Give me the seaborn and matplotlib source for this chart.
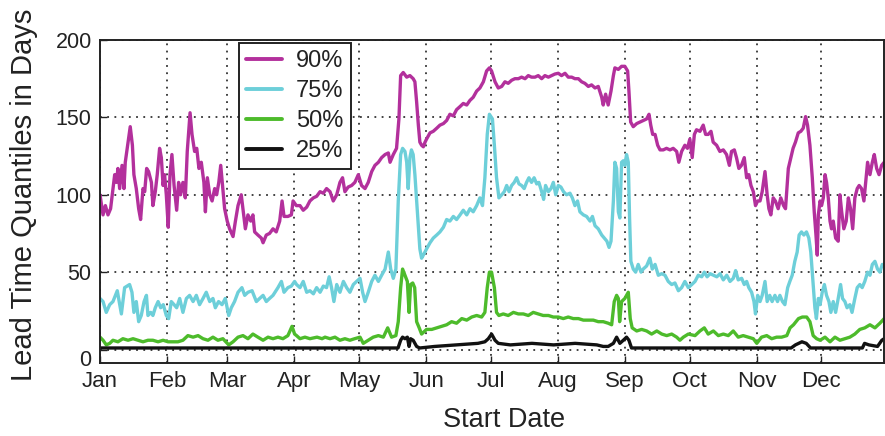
import matplotlib
matplotlib.use("Agg")
import matplotlib.pyplot as plt
from matplotlib.lines import Line2D
import seaborn as sns
import pandas as pd

# ---------------- data (day of year, value in days) ----------------
months = ["Jan", "Feb", "Mar", "Apr", "May", "Jun", "Jul", "Aug", "Sep", "Oct", "Nov", "Dec"]
month_start_day = [0, 31, 59, 90, 120, 151, 181, 212, 243, 273, 304, 334]
series_names = ["90%", "75%", "50%", "25%"]
series_colors = ["#B3309C", "#6DCFD9", "#4DBB2B", "#111111"]

p90_day = [0, 1.4, 2.5, 3.7, 4.9, 6, 6.8, 7.6, 8.3, 9.1, 10.2, 11.1, 11.7, 13, 14, 15, 15.7, 16.8, 17.9, 18.8,
           19.9, 20.7, 21.6, 22.5, 23.8, 24.5, 25.6, 26.5, 27.6, 28.4, 29.2, 29.9, 30.7, 31.6, 32.4, 33.3, 34.3,
           35.5, 36.4, 37.3, 38.4, 39.5, 40.4, 41.7, 42.6, 43.8, 44.8, 45.8, 46.9, 48.1, 48.8, 49.7, 50.8, 51.9,
           53.1, 54, 55, 55.9, 57, 57.7, 58.9, 60, 61.6, 62.7, 63.9, 65.4, 66.5, 67.3, 68.5, 69.8, 70.8, 71.6,
           73.1, 74.7, 75.5, 77, 78.5, 80.1, 81.6, 83.2, 84.3, 85.2, 87, 88.6, 89.4, 90.9,
           92.6, 94.1, 95.7, 97.2, 98.8, 100.3, 101.9, 103.4, 104.9, 106.5, 108, 109.6, 111.1, 112.3, 113.4,
           114.9, 116.5, 118, 119.6, 121.1, 122.7, 124.2, 125.8, 127.3, 128.9, 130.4, 132, 133.5, 134.3, 135.8,
           137.3, 138.4, 139.2, 140.4, 142, 143.5, 145, 145.8, 146.6, 147.4, 148.1, 148.9, 149.7, 150.5, 151.2,
           152.8, 154.3, 155.9, 157.4, 159, 160.5, 162, 163.6, 165.1, 166.7, 168.2, 169.8, 171.3, 172.8, 174.4,
           175.9, 177.5, 179, 180.3,
           181.3, 182.9, 184.4, 186, 187.5, 189, 190.6, 192.1, 193.7, 195.2, 196.8, 198.3, 199.8, 201.4, 202.9,
           204.5, 206, 207.6, 209.1, 210.6, 212.2, 213.7, 215.3, 216.8, 218.4, 219.9, 221.5, 223, 224.5, 226.1,
           227.6, 229.2, 230.7, 232.3, 233, 234.1, 235.3, 236.6, 237.7, 238.4, 240, 241.5, 243, 244.3, 244.9,
           245.7, 246.9, 248.5, 250, 251.5, 253.1, 254.2, 255, 255.9, 257, 258.2, 259.3, 260.8, 262.3, 263.9,
           265.4, 267, 268, 269.3, 270.8,
           272, 273.1, 274.2, 275.2, 276.2, 277.8, 279.3, 280.4, 281.6, 282.9, 283.9, 285.5, 287, 288.6, 290.1,
           291.4, 292.4, 293.7, 294.7, 295.8, 297, 298.3, 299.4, 300.4, 301.4, 302.5, 303.5, 304.5, 305.6, 306.6,
           307.9, 308.9, 309.7, 310.6, 311.7, 312.7, 314, 315.2, 316.5, 317.4, 318.7, 319.9, 320.9, 322, 323.3,
           324.5, 325.6, 326.7, 327.6, 328.7, 329.8, 330.7, 331.5, 332.1, 332.6, 333.4, 334.1, 334.9, 335.7,
           336.4, 337.2, 338, 338.7, 339.5, 340.6, 341.8, 342.6, 343.4, 344.4, 345.5, 346.5, 347.5, 348.5, 349.5,
           350.6, 351.5, 352.6, 353.7, 354.5, 355.4, 356.5, 357.6, 358.5, 359.6, 360.7, 361.9, 363.1]
p90_val = [100, 87, 93, 87, 91, 104, 113, 108, 117, 104, 119, 104, 121, 134, 144, 132, 113, 104, 91, 84,
           104, 102, 117, 115, 108, 93, 102, 113, 130, 124, 106, 113, 100, 79, 113, 126, 106,
           90, 108, 100, 108, 98, 128, 153, 139, 128, 130, 117, 121, 108, 89, 111, 100, 96,
           104, 100, 108, 119, 102, 91, 83, 78, 73, 83, 93, 100, 87, 78, 87, 83, 87, 76,
           74, 72, 69, 74, 75, 78, 76, 83, 96, 86, 86, 87, 96, 93,
           93, 90, 92, 96, 98, 99, 102, 101, 104, 102, 96, 100, 108, 111, 102,
           105, 106, 108, 113, 106, 104, 108, 115, 119, 121, 124, 126, 127, 121, 126,
           130, 149, 177, 179, 176, 177, 175, 173, 160, 145, 134, 132, 131, 134, 136,
           140, 141, 143, 145, 146, 148, 152, 151, 155, 157, 159, 158, 161, 163, 167,
           169, 173, 180, 182,
           180, 173, 169, 170, 173, 172, 174, 175, 175, 176, 175, 177, 176, 176, 177,
           175, 177, 176, 177, 178, 178.5, 177, 178.5, 176, 176, 175, 175, 173, 172, 170,
           171, 169, 170, 163, 158, 165, 158, 167, 177, 182, 181, 183, 183, 180, 167,
           147, 144, 146, 147, 148, 149, 152, 145, 139, 139, 132, 129, 129, 130, 129,
           130, 128, 121, 128, 132,
           130, 136, 124, 139, 142, 141, 145, 139, 139, 141, 134, 132, 128, 129, 126,
           119, 128, 129, 124, 117, 119, 124, 111, 113, 106, 102, 93, 96, 96, 102,
           115, 100, 91, 87, 98, 96, 91, 98, 93, 91, 117, 124, 130, 134, 140,
           141, 143, 150.5, 145, 132, 111, 89, 74, 61, 87, 96, 93, 98, 113,
           108, 98, 83, 78, 83, 72, 70, 100, 89, 78, 83, 98, 91, 78, 98,
           104, 106, 104, 96, 108, 121, 113, 121, 126, 117, 113, 119, 121]

p75_day = [0, 1.4, 2.9, 4.5, 6, 8, 9.9, 11.4, 13.7, 14.8, 15.7, 16.8, 17.9, 19.1, 20.4, 21.5, 22.2, 23.5,
           24.5, 25.6, 26.9, 28.1, 29.3, 30.7, 31.8, 33, 34.3, 35.5, 36.9, 38.4, 40, 41.5, 43.1, 44.6, 46.1,
           47.7, 49.2, 50.8, 52.3, 53.4, 54.9, 56.5, 58, 59.6, 60.8, 62.3, 63.9, 65.7, 67, 68.5, 70.4, 72.4,
           73.9, 75.5, 77, 78.5, 80.1, 82.4, 84, 85.2, 87, 88.6, 90.1,
           91, 92.6, 94.1, 95.7, 97.2, 98.8, 100.3, 101.9, 103.4, 104.9, 106.1, 107.2, 108.3, 109.6, 111.1,
           112.7, 114.2, 115.7, 117.3, 118.8, 120.4, 121.6, 122.7, 124.2, 125.8, 127.3, 128.9, 130.4, 132,
           133.5, 134.6, 135.8, 137, 138.1, 139.2, 140.1, 141.2, 142, 142.7, 143.5, 144.2, 145, 145.8, 146.6,
           147.4, 148.1, 148.9, 149.7, 151.2, 152.8, 154.3, 155.9, 157.4, 159, 160.5, 162, 163.6, 165.1,
           166.7, 168.2, 169.8, 171.3, 172.8, 174.4, 175.9, 177.1, 178.2, 179.3, 180.3,
           181.7, 182.6, 183.6, 184.7, 186, 187.2, 188.3, 189.4, 190.6, 191.8, 192.9, 194, 195.2, 196.4,
           197.5, 198.6, 199.8, 201, 202.2, 203.2, 204.5, 205.4, 206.3, 207.6, 208.8, 209.9, 211, 212.2,
           213.4, 214.6, 216, 217.6, 218.7, 219.9, 221.1, 222.2, 223.8, 225.3, 226.9, 228, 229.2, 230.7,
           232.3, 233.5, 234.7, 235.7, 236.6, 237.7, 238.4, 239.2, 240, 240.7, 241.5, 242.3, 243, 243.8,
           244.6, 245.2, 245.8, 246.9, 248, 249.2, 250.5, 251.5, 253.1, 254.6, 255.7, 257, 258.5, 260.1,
           261.6, 263.1, 264.7, 266.2, 267.8, 269.3,
           270.8, 272.4, 274, 275.5, 277, 278.6, 279.8, 281.1, 282.5, 284, 285.6, 287.1, 288.6, 290.2,
           291.7, 293.2, 294.3, 295.5, 297.1, 298.3, 299.4, 300.4, 301.7, 302.8, 303.5, 304.5, 305.6,
           306.6, 307.9, 308.9, 310.1, 311.2, 312.5, 313.7, 314.8, 316, 317.1, 318.4, 319.4, 320.5, 321.7,
           322.8, 323.7, 324.8, 325.9, 327.1, 328.2, 329.1, 330.1, 331, 331.7, 332.6, 333.4, 334.4, 335.4,
           336.4, 337.5, 338.4, 339.5, 340.6, 341.8, 342.9, 343.8, 344.9, 345.9, 347.2, 348.2, 349.5,
           350.6, 351.8, 352.9, 354.1, 355.4, 356.5, 357.6, 358.8, 360, 361.1, 362.2, 363.1]
p75_val = [33, 31, 24, 29, 31, 38, 23, 40, 42, 37, 24, 31, 18, 22, 31, 35, 22, 24,
           22, 27, 31, 27, 29, 22, 20, 31, 29, 27, 33, 24, 33, 35, 31, 35, 29,
           33, 37, 31, 33, 27, 31, 29, 33, 22, 27, 31, 37, 40, 35, 37, 38, 31,
           33, 35, 31, 33, 35, 40, 44, 37, 40, 41, 44,
           42, 40, 44, 37, 38, 36, 40, 37, 41, 40, 47, 40, 31, 42, 37,
           44, 40, 37, 42, 44, 46, 37, 31, 37, 44, 48, 44, 48, 52,
           63, 52, 46, 52, 96, 126, 130, 128, 121, 104, 124, 129, 126, 113, 96,
           78, 65, 59, 61, 65, 69, 72, 74, 76, 79, 84, 83, 86, 84,
           87, 90, 87, 91, 89, 93, 98, 93, 111, 139, 152,
           149, 132, 111, 98, 100, 102, 106, 102, 106, 108, 111, 107, 106, 104,
           108, 111, 108, 111, 107, 108, 102, 97, 106, 102, 104, 108, 100, 106,
           105, 102, 100, 101, 98, 93, 96, 89, 87, 86, 83, 86, 80, 78,
           74, 72, 70, 66, 70, 96, 121, 117, 89, 85, 121, 122, 119, 126,
           121, 85, 57, 52, 50, 55, 50, 52, 54, 59, 52, 55, 48, 49,
           48, 44, 42, 43, 38, 40,
           44, 40, 42, 44, 48, 47, 50, 47, 49, 48, 47, 49, 45, 48,
           44, 46, 51, 45, 46, 42, 44, 40, 37, 31, 23, 35, 31,
           35, 44, 31, 35, 31, 35, 31, 35, 31, 29, 40, 44, 48, 57,
           63, 74, 76, 74, 76, 72, 63, 44, 27, 20, 33, 29, 37, 42,
           35, 31, 24, 31, 24, 33, 42, 33, 31, 27, 29, 24, 33,
           40, 42, 40, 44, 50, 48, 55, 57, 52, 50, 55, 54]

p50_day = [0, 1.4, 2.9, 4.5, 6, 8.3, 10.6, 13, 15.3, 17.6, 19.9, 22.2, 24.5, 26.9, 29.2, 31.5, 33.8, 36.1,
           38.4, 40.7, 43.1, 45.4, 47.7, 50, 52.3, 54.6, 56.9, 59.6, 61.6, 63.9, 66.2, 68.5, 70.8, 73.1, 75.5,
           77.8, 80.1, 82.4, 84.7, 87, 88.9, 90.1,
           91, 92.6, 94.9, 97.2, 100.5, 102.8, 104.2, 106.5, 108.8, 111.1, 113.4, 115.7, 117.9, 120.4, 121.9,
           124.2, 126.5, 128.9, 131.2, 133.2, 135, 137, 138.1, 139.2, 140.1, 141.2, 142.3, 143.1, 143.8, 144.8,
           145.7, 146.6, 147.8, 148.9, 151.2, 153.6, 155.9, 158.2, 160.5, 162.8, 165.1, 167.5, 169.8, 172.1,
           174.4, 176.7, 178.2, 179.3, 180.3,
           181.3, 182.6, 183.6, 184.7, 186.7, 189, 191.4, 193.7, 196, 198.3, 200.6, 202.9, 205.2, 207.6, 209.9,
           212.2, 214.5, 216.8, 219.1, 221.5, 223.8, 226.1, 228.4, 230.7, 233, 235.3, 236.9, 238.1, 239.2, 240,
           240.6, 241.5, 243, 244.6, 245.5, 246.4, 248.5, 250.8, 253.1, 255.4, 257.8, 260.1, 262.4, 264.7, 267,
           268.5, 270.1, 272.4,
           275.5, 277.8, 279.8, 281.6, 284, 286.3, 288.6, 290.9, 293.2, 295.5, 297.8, 300.2, 302.5, 304.1,
           306.3, 308.7, 311, 313.3, 315.6, 318, 319.5, 321.1, 323.4, 325.2, 327.2, 328.7, 330.2, 331.8, 333.4,
           335.7, 338, 340.3, 342.6, 344.9, 347.2, 349.5, 351.8, 354.1, 356.5, 358.8, 361.1, 363.1]
p50_val = [8, 6, 3, 4, 6, 5, 7, 6, 7, 6, 5, 6, 6, 5, 6, 5, 5, 5,
           6, 9, 8, 9, 7, 6, 8, 6, 7, 3, 5, 8, 9, 7, 10, 8, 6,
           8, 7, 8, 7, 9, 15, 10,
           9, 7, 8, 7, 8, 7, 8, 7, 8, 6, 7, 6, 7, 8, 4,
           6, 8, 9, 8, 14, 8, 9, 18, 40, 52, 48, 44, 24, 42, 43,
           40, 18, 14, 10, 13, 13, 14, 15, 16, 18, 17, 20, 19, 21,
           22, 21, 24, 40, 50,
           50, 40, 24, 22, 23, 22, 24, 23, 23, 22, 24, 23, 22, 22, 21,
           21, 20, 21, 20, 20, 19, 19, 19, 18, 18, 17, 16, 31, 35, 33,
           18, 31, 33, 37, 20, 14, 12, 13, 12, 10, 12, 10, 9, 10, 8,
           6, 8, 10,
           9, 12, 14, 10, 12, 9, 10, 9, 12, 8, 9, 8, 7, 4,
           8, 9, 7, 8, 8, 9, 14, 16, 20, 21, 21, 18, 9, 7, 6,
           8, 5, 8, 6, 7, 8, 10, 13, 14, 16, 14, 17, 20]

p25_day = [0, 60, 138, 139.2, 140.1, 141.2, 142.3, 143.1, 143.8, 145, 146.6, 148, 155, 165, 175, 178.2,
           179.8, 181.3, 182.9, 184.4, 190, 200, 210, 220, 230, 233, 235.3, 237.7, 239.2, 240.7, 242.3,
           243.8, 244.9, 246.1, 280, 320, 322, 325, 327, 329, 340, 353, 354, 356, 360, 362, 363.1]
p25_val = [1, 1, 1, 6, 8, 7, 8, 2, 7, 6, 2, 1, 2, 3, 4, 5,
           7, 10, 6, 4, 3, 4, 3, 4, 3, 2, 2, 4, 8, 4, 6,
           8, 6, 1, 1, 1, 3, 5, 4, 1, 1, 1, 4, 3, 2, 6, 7]

# ---------------- build long table ----------------
frames = []
for name, d, v in zip(series_names, [p90_day, p75_day, p50_day, p25_day], [p90_val, p75_val, p50_val, p25_val]):
    frames.append(pd.DataFrame({"day": d, "value": v, "series": name}))
df = pd.concat(frames, ignore_index=True)

# ---------------- style ----------------
sns.set_theme(style="white")
plt.rcParams["font.family"] = ["Liberation Sans", "DejaVu Sans"]
plt.rcParams["axes.edgecolor"] = "#222222"
plt.rcParams["axes.linewidth"] = 1.4

fig = plt.figure(figsize=(8.85, 4.36), dpi=100)
fig.patch.set_facecolor("white")
ax = fig.add_axes([100 / 885, 1 - 363 / 436, 784 / 885, 323 / 436])

sns.lineplot(data=df, x="day", y="value", hue="series", hue_order=series_names,
             palette=series_colors, estimator=None, sort=True, linewidth=2.4,
             legend=False, ax=ax)

ax.set_xlim(0, 363)
ax.set_ylim(-8.7, 200)
ax.set_xticks(month_start_day)
ax.set_xticklabels(months)
ax.set_yticks([0, 50, 100, 150, 200])
ax.set_yticklabels(["0", "50", "100", "150", "200"])
ax.tick_params(axis="both", direction="in", length=5, width=1, pad=6,
               labelsize=15.5, colors="#222222", bottom=True, left=True)
for lbl in ax.get_xticklabels():
    lbl.set_fontsize(16)
ax.get_yticklabels()[0].set_va("top")

ax.grid(True, color="#333333", linestyle=(0, (1, 3)), linewidth=1.3)
ax.set_axisbelow(True)
for s in ax.spines.values():
    s.set_visible(True)
    s.set_color("#222222")
    s.set_linewidth(1.4)

ax.set_xlabel("Start Date", fontsize=19.5, color="#222222")
ax.set_ylabel("Lead Time Quantiles in Days", fontsize=21, color="#222222")
ax.xaxis.set_label_coords(0.515, -0.135)
ax.yaxis.set_label_coords(-0.079, 0.52)

handles = [Line2D([0], [0], color=c, lw=2.8) for c in series_colors]
leg = ax.legend(handles, series_names, loc="upper left", bbox_to_anchor=(0.177, 0.991),
                borderaxespad=0, fontsize=17, frameon=True, fancybox=False, framealpha=1,
                edgecolor="#222222", handlelength=1.5, handletextpad=0.6, labelspacing=0.33,
                borderpad=0.32)
leg.get_frame().set_linewidth(1.4)
for t in leg.get_texts():
    t.set_color("#222222")

fig.savefig("out.png", dpi=100, facecolor="white")
